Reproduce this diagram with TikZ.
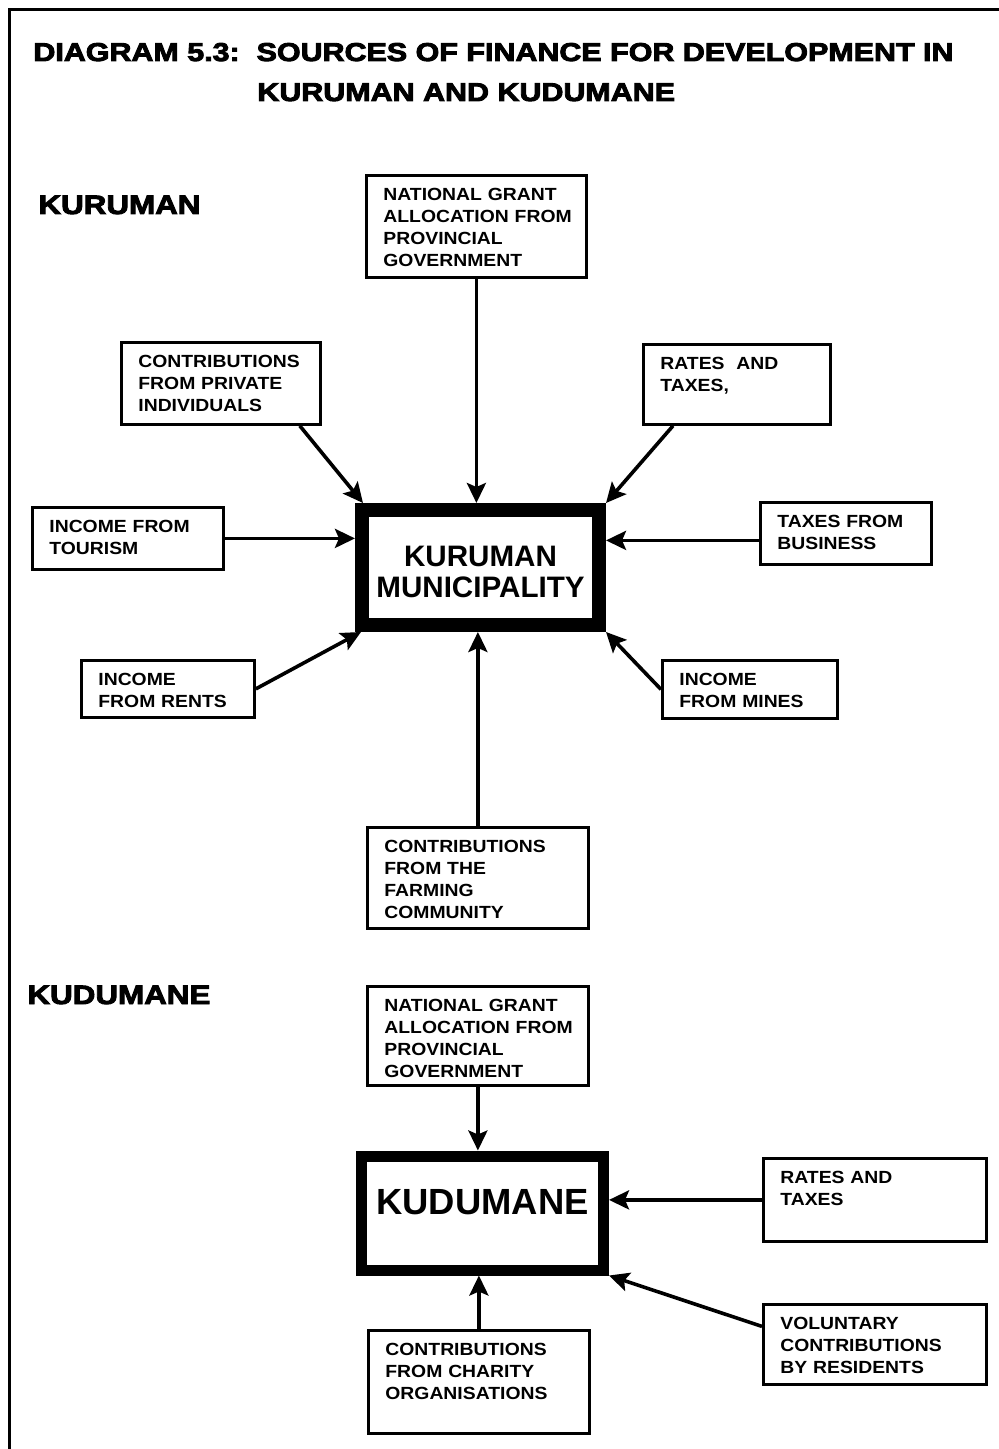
\documentclass[tikz,border=0pt]{standalone}
\usepackage{fontspec}
\setmainfont{Liberation Sans}
\newfontfamily\boxfont{Liberation Sans}[FakeStretch=1.1]
\newfontfamily\heavyfont{Liberation Sans}[FakeStretch=1.18, BoldFeatures={FakeBold=3.5}]
\usepackage{tikz}
\usetikzlibrary{arrows.meta}

\begin{document}
\begin{tikzpicture}[x=0.5pt, y=-0.5pt,
    srcbox/.style 2 args={draw, line width=1.4pt, anchor=north west, inner xsep=8.5pt, inner ysep=0pt,
      text width=#1*0.5pt-17pt, text height=12.5pt, text depth=#2*0.5pt-12.5pt, align=left,
      font=\boxfont\bfseries\fontsize{8.8}{11}\selectfont},
    hub/.style={draw, inner sep=0pt, align=center},
    feed/.style={line width=1.8pt, -{Stealth[length=10pt, width=9.5pt, inset=2pt]}},
    heading/.style={anchor=base west, inner sep=0pt, font=\heavyfont\bfseries\fontsize{13.3}{15}\selectfont}]
  \useasboundingbox (0,0) rectangle (999,1449);
  % page frame (top and left edges only)
  \draw[line width=1.5pt] (9,1449) -- (9,10) -- (999,10);

  % title
  \node[heading, font=\heavyfont\bfseries\fontsize{12.9}{15}\selectfont] (title1) at (33,61) {DIAGRAM 5.3:\ \ SOURCES OF FINANCE FOR DEVELOPMENT IN};
  \node[heading, font=\heavyfont\bfseries\fontsize{12.9}{15}\selectfont] (title2) at (257,101) {KURUMAN AND KUDUMANE};

  % Kuruman
  \node[heading] (kurlabel) at (38,214) {KURUMAN};
  \node[hub, line width=7pt, minimum width=118.5pt, minimum height=57.5pt, text height=30.1pt, text depth=0pt,
        font=\bfseries\fontsize{14.8}{15.5}\selectfont] (kmun) at (480.5,567.5) {KURUMAN\\MUNICIPALITY};

  \node[srcbox={220}{102}] (natT) at (365,174) {NATIONAL~GRANT\\ALLOCATION~FROM\\PROVINCIAL\\GOVERNMENT};
  \node[srcbox={199}{82}] (priv) at (120,341) {CONTRIBUTIONS\\FROM~PRIVATE\\INDIVIDUALS};
  \node[srcbox={187}{80}] (rates) at (642,343) {RATES~~AND\\TAXES,};
  \node[srcbox={191}{62}] (tour) at (31,506) {INCOME~FROM\\TOURISM};
  \node[srcbox={171}{62}] (taxb) at (759,501) {TAXES~FROM\\BUSINESS};
  \node[srcbox={173}{57}] (rents) at (80,659) {INCOME\\FROM~RENTS};
  \node[srcbox={175}{58}] (mines) at (661,659) {INCOME\\FROM~MINES};
  \node[srcbox={221}{101}] (farm) at (366,826) {CONTRIBUTIONS\\FROM~THE\\FARMING\\COMMUNITY};

  \coordinate (taxbin) at ([yshift=-3.5pt]taxb.west);
  \draw[feed] (natT.south) -- (natT.south |- kmun.north);
  \draw[feed] ([xshift=-11pt]priv.south east) -- ([xshift=4pt]kmun.north west);
  \draw[feed] ([xshift=15.5pt]rates.south west) -- (kmun.north east);
  \draw[feed] (tour.east) -- (tour.east -| kmun.west);
  \draw[feed] (taxbin) -- (taxbin -| kmun.east);
  \draw[feed] (rents.east) -- ([xshift=3pt]kmun.south west);
  \draw[feed] (mines.west) -- (kmun.south east);
  \draw[feed] (farm.north) -- (farm.north |- kmun.south);

  % Kudumane
  \node[heading] (kudlabel) at (27,1004) {KUDUMANE};
  \node[hub, line width=5.5pt, minimum width=121pt, minimum height=57pt, text height=13pt, text depth=11.5pt,
        font=\bfseries\fontsize{18.2}{20}\selectfont] (kdu) at (482.5,1213) {KUDUMANE};

  \node[srcbox={221}{99}] (natB) at (366,985) {NATIONAL~GRANT\\ALLOCATION~FROM\\PROVINCIAL\\GOVERNMENT};
  \node[srcbox={223}{83}] (ratesB) at (762,1157) {RATES~AND\\TAXES};
  \node[srcbox={223}{80}] (vol) at (762,1303) {VOLUNTARY\\CONTRIBUTIONS\\BY~RESIDENTS};
  \node[srcbox={221}{103}] (char) at (367,1329) {CONTRIBUTIONS\\FROM~CHARITY\\ORGANISATIONS};

  \draw[feed] (natB.south) -- (natB.south |- kdu.north);
  \draw[feed] (ratesB.west) -- (ratesB.west -| kdu.east);
  \draw[feed] ([yshift=9pt]vol.west) -- (kdu.south east);
  \draw[feed] (char.north) -- (char.north |- kdu.south);
\end{tikzpicture}
\end{document}
